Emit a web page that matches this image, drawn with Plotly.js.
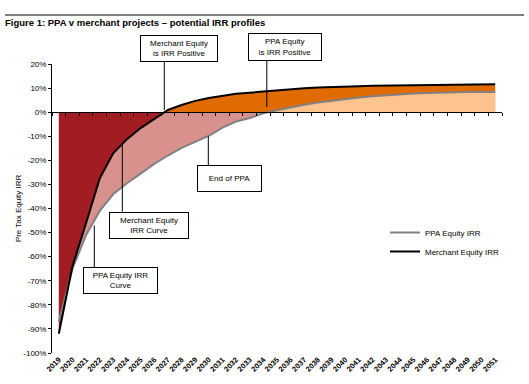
<!DOCTYPE html>
<html>
<head>
<meta charset="utf-8">
<script src="https://cdn.plot.ly/plotly-3.0.1.min.js"></script>
<style>html,body{margin:0;padding:0;background:#fff;}#chart{width:529px;height:384px;}</style>
</head>
<body>
<div id="chart"></div>
<script>
// ---- data ----
const years = [2019,2020,2021,2022,2023,2024,2025,2026,2027,2028,2029,2030,2031,2032,2033,2034,2035,
               2036,2037,2038,2039,2040,2041,2042,2043,2044,2045,2046,2047,2048,2049,2050,2051];
const yearLabels = years.map(String);
const ppaIRR = [-87,-65,-51,-41,-34,-29.5,-25.5,-21.5,-18,-14.8,-12.3,-9.8,-6.4,-3.9,-2.4,-0.5,0.8,
                2.0,3.1,4.0,4.8,5.5,6.1,6.6,7.1,7.5,7.8,8.0,8.2,8.3,8.4,8.4,8.4];
const merchantIRR = [-92,-64,-46,-27.5,-17,-11.2,-6.6,-2.8,0.9,3.0,4.7,5.9,6.8,7.6,8.1,8.6,9.0,
                     9.5,9.9,10.2,10.5,10.7,10.8,10.95,11.05,11.15,11.25,11.3,11.4,11.5,11.5,11.6,11.6];
const yTickVals = [20,10,0,-10,-20,-30,-40,-50,-60,-70,-80,-90,-100];
const yTickLabels = ['20%','10%','0%','-10%','-20%','-30%','-40%','-50%','-60%','-70%','-80%','-90%','-100%'];
const seriesNames = ['PPA Equity IRR','Merchant Equity IRR'];
const chartTitle = 'Figure 1: PPA v merchant projects \u2013 potential IRR profiles';
const yTitle = 'Pre Tax Equity IRR';
const callouts = ['Merchant Equity<br>is IRR Positive','PPA Equity<br>is IRR Positive','End of PPA',
                  'Merchant Equity<br>IRR Curve','PPA Equity IRR<br>Curve'];

// ---- helpers: split a series at its zero crossing (for the coloured bands) ----
function zeroCross(xs, ys){
  for (let i = 0; i < ys.length - 1; i++){
    if (ys[i] < 0 && ys[i+1] >= 0) return xs[i] + (0 - ys[i]) / (ys[i+1] - ys[i]) * (xs[i+1] - xs[i]);
  }
  return xs[xs.length-1];
}
function negPart(xs, ys){
  const xc = zeroCross(xs, ys), X = [], Y = [];
  ys.forEach((v,i)=>{ if (v < 0){ X.push(xs[i]); Y.push(v); } });
  X.push(xc); Y.push(0);
  return {x:X, y:Y};
}
function posPart(xs, ys){
  const xc = zeroCross(xs, ys), X = [xc], Y = [0];
  ys.forEach((v,i)=>{ if (v >= 0){ X.push(xs[i]); Y.push(v); } });
  return {x:X, y:Y};
}

const FONT = 'Arial, "Liberation Sans", sans-serif';
const C = {darkred:'#A11D21', pink:'#D9918D', orange:'#E06B00', peach:'#FFC38E', grey:'#808080'};

const pNeg = negPart(years, ppaIRR), mNeg = negPart(years, merchantIRR);
const mPos = posPart(years, merchantIRR), pPos = posPart(years, ppaIRR);
const band = (p, col) => ({x:p.x, y:p.y, type:'scatter', mode:'none', fill:'tozeroy', fillcolor:col,
                           showlegend:false, hoverinfo:'skip'});

const traces = [
  band(pNeg, C.pink),
  band(mNeg, C.darkred),
  band(mPos, C.orange),
  band(pPos, C.peach),
  {x:years, y:ppaIRR, type:'scatter', mode:'lines', name:seriesNames[0], line:{color:C.grey, width:2}},
  {x:years, y:merchantIRR, type:'scatter', mode:'lines', name:seriesNames[1], line:{color:'#000', width:2}},
  {x:[years[0]], y:[null], xaxis:'x2', type:'scatter', mode:'lines', showlegend:false, hoverinfo:'skip'}
];

// ---- layout geometry (pixels) ----
const W = 529, H = 384, L = 52, R = 27, T = 64, B = 31;
const PW = W - L - R, PH = H - T - B;
const px = v => (v - L) / PW;          // pixel x -> paper
const py = v => (H - B - v) / PH;      // pixel y -> paper

const xRange = [years[0] - 0.5, years[years.length-1] + 0.5];
const boundaries = years.map(y => y - 0.5).concat([years[years.length-1] + 0.5]);

const boxes = [
  {t:callouts[0], cx:178.8, cy:48.3, w:78, h:27},
  {t:callouts[1], cx:285.3, cy:47.2, w:74, h:28},
  {t:callouts[2], cx:229.0, cy:178.7, w:65, h:27},
  {t:callouts[3], cx:149.2, cy:225.3, w:80, h:27},
  {t:callouts[4], cx:120.0, cy:280.8, w:75, h:27}
];
const leaders = [[164.3,61.7,110],[266.8,61,107],[208.3,136.5,165],[122.3,144,211.7],[94.3,225.5,267.3]];

const annotations = boxes.map(b => ({
  text:b.t, xref:'paper', yref:'paper', x:px(b.cx), y:py(b.cy), xanchor:'center', yanchor:'middle',
  showarrow:false, width:b.w - 2, height:b.h - 2, borderpad:0, borderwidth:1, bordercolor:'#000',
  bgcolor:'#fff', font:{family:FONT, size:8, color:'#000'}, align:'center', valign:'middle'
}));

const shapes = leaders.map(l => ({type:'line', xref:'paper', yref:'paper', x0:px(l[0]), x1:px(l[0]),
  y0:py(l[1]), y1:py(l[2]), line:{color:'#000', width:1}}));
shapes.push({type:'line', xref:'paper', yref:'paper', x0:px(5), x1:px(524), y0:py(15), y1:py(15),
  line:{color:'#000', width:1}});

const layout = {
  width:W, height:H, margin:{l:L, r:R, t:T, b:B, pad:0},
  paper_bgcolor:'#fff', plot_bgcolor:'#fff',
  font:{family:FONT, size:8, color:'#000'},
  title:{text:'<b>' + chartTitle + '</b>', x:5 / W, xref:'container', xanchor:'left',
         y:1 - 22.5 / H, yanchor:'middle', font:{family:FONT, size:9.5, color:'#000'}},
  xaxis:{type:'linear', range:xRange, tickvals:years, ticktext:yearLabels, tickangle:-45,
         ticks:'', showline:false, showgrid:false, zeroline:false, automargin:false,
         tickfont:{family:FONT, size:7.5, color:'#000', weight:'bold'}},
  xaxis2:{type:'linear', overlaying:'x', anchor:'free', position:100/120, range:xRange,
          tickvals:boundaries, showticklabels:false, ticks:'outside', ticklen:3, tickcolor:'#000',
          showline:true, linecolor:'#000', linewidth:1, showgrid:false, zeroline:false, layer:'above traces'},
  yaxis:{range:[-100,20], tickvals:yTickVals, ticktext:yTickLabels, ticks:'outside', ticklen:3,
         tickcolor:'#000', showline:true, linecolor:'#000', linewidth:1, showgrid:false, zeroline:false,
         automargin:false, tickfont:{family:FONT, size:8, color:'#000'},
         title:{text:yTitle, standoff:0, font:{family:FONT, size:8, color:'#000'}}},
  showlegend:true,
  legend:{x:px(385), y:py(218), xanchor:'left', yanchor:'top', bgcolor:'rgba(0,0,0,0)',
          font:{family:FONT, size:8, color:'#000'}, tracegroupgap:0},
  annotations:annotations, shapes:shapes
};

Plotly.newPlot('chart', traces, layout, {staticPlot:true, displayModeBar:false});
</script>
</body>
</html>
